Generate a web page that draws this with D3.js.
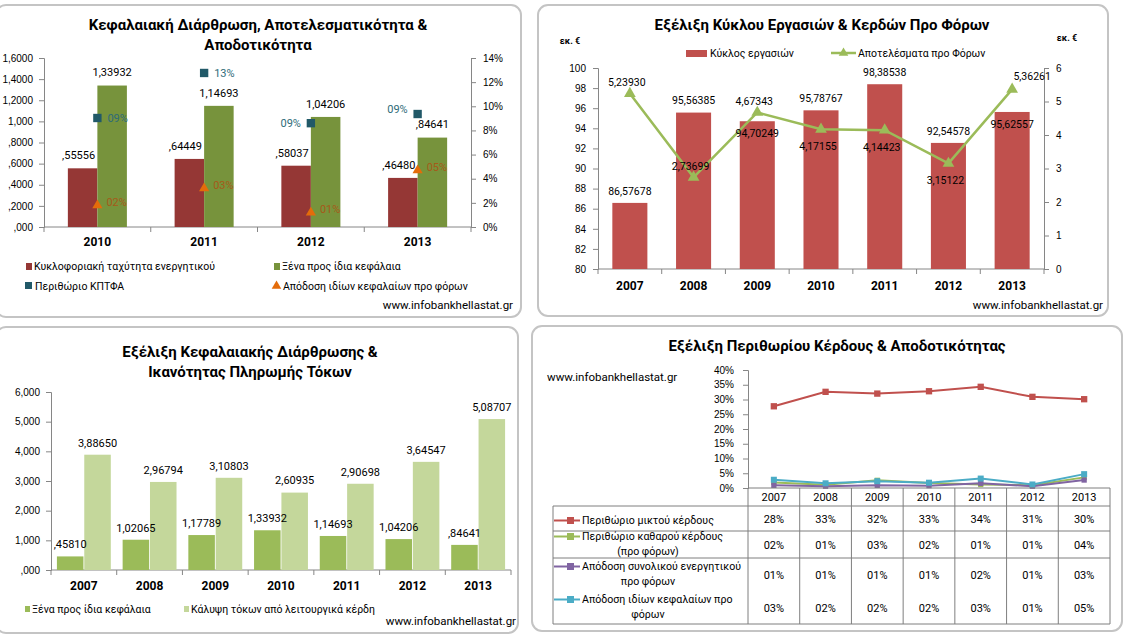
<!DOCTYPE html>
<html>
<head>
<meta charset="utf-8">
<script src="https://cdn.jsdelivr.net/npm/d3@7"></script>
<style>
  body { margin: 0; background: #fff; }
  svg { display: block; font-family: Roboto, "Noto Sans", sans-serif; }
</style>
</head>
<body>
<script>
// ---- data ----
const years4 = ["2010", "2011", "2012", "2013"];
const years7 = ["2007", "2008", "2009", "2010", "2011", "2012", "2013"];

// 2010-2013
const assetTurnover = [0.55556, 0.64449, 0.58037, 0.46480];
const ebitdaMargin = [0.0903, 0.1276, 0.086, 0.0936];

// 2007-2013
const debtToEquity = [0.45810, 1.02065, 1.17789, 1.33932, 1.14693, 1.04206, 0.84641];
const interestCover = [3.88650, 2.96794, 3.10803, 2.60935, 2.90698, 3.64547, 5.08707];
const turnover = [86.57678, 95.56385, 94.70249, 95.78767, 98.38538, 92.54578, 95.62557];
const profitBeforeTax = [5.23930, 2.73699, 4.67343, 4.17155, 4.14423, 3.15122, 5.36261];
const grossMargin = [0.277, 0.326, 0.320, 0.328, 0.343, 0.309, 0.301];
const netMargin = [0.019, 0.011, 0.026, 0.017, 0.012, 0.009, 0.036];
const roa = [0.009, 0.006, 0.009, 0.008, 0.016, 0.006, 0.027];
const roe = [0.028, 0.016, 0.023, 0.018, 0.032, 0.012, 0.047];

// tick labels as they appear
const p1LeftTicks = [",000", ",2000", ",4000", ",6000", ",8000", "1,000", "1,2000", "1,4000", "1,6000"];
const p1RightTicks = ["0%", "2%", "4%", "6%", "8%", "10%", "12%", "14%"];
const p2LeftTicks = ["80", "82", "84", "86", "88", "90", "92", "94", "96", "98", "100"];
const p2RightTicks = ["0", "1", "2", "3", "4", "5", "6"];
const p3Ticks = [",000", "1,000", "2,000", "3,000", "4,000", "5,000", "6,000"];
const p4Ticks = ["0%", "5%", "10%", "15%", "20%", "25%", "30%", "35%", "40%"];

// titles and legend names
const p1Title = ["Κεφαλαιακή Διάρθρωση, Αποτελεσματικότητα &", "Αποδοτικότητα"];
const p2Title = ["Εξέλιξη Κύκλου Εργασιών & Κερδών Προ Φόρων"];
const p3Title = ["Εξέλιξη Κεφαλαιακής Διάρθρωσης &", "Ικανότητας Πληρωμής Τόκων"];
const p4Title = ["Εξέλιξη Περιθωρίου Κέρδους & Αποδοτικότητας"];
const p1Names = ["Κυκλοφοριακή ταχύτητα ενεργητικού", "Ξένα προς ίδια κεφάλαια", "Περιθώριο ΚΠΤΦΑ", "Απόδοση ιδίων κεφαλαίων προ φόρων"];
const p2Names = ["Κύκλος εργασιών", "Αποτελέσματα προ Φόρων"];
const p3Names = ["Ξένα προς ίδια κεφάλαια", "Κάλυψη τόκων από λειτουργικά κέρδη"];
const p4Names = [
  ["Περιθώριο μικτού κέρδους"],
  ["Περιθώριο καθαρού κέρδους", "(προ φόρων)"],
  ["Απόδοση συνολικού ενεργητικού", "προ φόρων"],
  ["Απόδοση ιδίων κεφαλαίων προ", "φόρων"]
];
const source = "www.infobankhellastat.gr";

// where the labels sit (picked by hand in the original)
const p1MarginSide = ["right", "right", "left", "left"];
const p2BarLabelPos = ["above", "above", "below", "above", "above", "above", "below"];
const p2LineLabelPos = ["above", "above", "above", "below", "below", "below", "above"];

// ---- helpers ----
const axisColor = "#868686";
const pct = v => String(Math.round(v * 100)).padStart(2, "0") + "%";
const dec5 = v => v.toFixed(5).replace(".", ",").replace(/^0/, "");

const svg = d3.select("body").append("svg").attr("width", 1127).attr("height", 642);

function frame(g, x, y, w, h) {
  g.append("rect")
    .attr("x", x).attr("y", y).attr("width", w).attr("height", h)
    .attr("rx", 10)
    .attr("fill", "#fff")
    .attr("stroke", "#c4c4c4")
    .attr("stroke-width", 2);
}

function title(g, lines, cx, y0) {
  g.append("text")
    .attr("text-anchor", "middle")
    .attr("font-weight", "bold")
    .attr("font-size", 15)
    .attr("fill", "#000")
    .selectAll("tspan").data(lines).join("tspan")
    .attr("x", cx)
    .attr("y", (d, i) => y0 + i * 20)
    .attr("dy", "0.35em")
    .text(d => d);
}

function styleAxis(g) {
  g.select(".domain").attr("stroke", axisColor);
  g.selectAll(".tick line").attr("stroke", axisColor);
  g.selectAll(".tick text").attr("fill", "#000").attr("font-size", 10).attr("font-family", null);
}

// Excel style category axis: line, ticks at band edges, bold year labels
function catAxis(g, x, y0, labelY) {
  const [r0, r1] = x.range();
  g.append("line")
    .attr("x1", r0).attr("x2", r1).attr("y1", y0).attr("y2", y0)
    .attr("stroke", axisColor);
  g.append("g").selectAll("line")
    .data(d3.range(x.domain().length + 1))
    .join("line")
    .attr("x1", i => r0 + i * x.step()).attr("x2", i => r0 + i * x.step())
    .attr("y1", y0).attr("y2", y0 + 5)
    .attr("stroke", axisColor);
  g.append("g").selectAll("text")
    .data(x.domain())
    .join("text")
    .attr("x", d => x(d) + x.bandwidth() / 2)
    .attr("y", labelY)
    .attr("dy", "0.35em")
    .attr("text-anchor", "middle")
    .attr("font-weight", "bold")
    .attr("font-size", 12)
    .text(d => d);
}

function sourceText(g, x, y, anchor) {
  g.append("text")
    .attr("x", x).attr("y", y).attr("dy", "0.35em")
    .attr("text-anchor", anchor)
    .attr("font-size", 11.5)
    .attr("fill", "#000")
    .text(source);
}

function legendText(g, x, y, txt, size = 10.5) {
  g.append("text")
    .attr("x", x).attr("y", y).attr("dy", "0.35em")
    .attr("font-size", size)
    .attr("fill", "#000")
    .text(txt);
}

// ---- panel 1: Κεφαλαιακή Διάρθρωση ----
{
  const g = svg.append("g");
  frame(g, -4, 5, 525, 312);
  title(g, p1Title, 258, 25);

  const x = d3.scaleBand().domain(years4).range([44, 471]).paddingInner(0.447).paddingOuter(0.2235);
  const xs = d3.scaleBand().domain([0, 1]).range([0, x.bandwidth()]);
  const y = d3.scaleLinear().domain([0, 1.6]).range([227, 58]);
  const yr = d3.scaleLinear().domain([0, 0.14]).range([227, 58]);

  g.append("g").attr("transform", "translate(44,0)")
    .call(d3.axisLeft(y).tickValues(p1LeftTicks.map((d, i) => i * 0.2))
      .tickFormat((d, i) => p1LeftTicks[i]).tickSizeOuter(0).tickSize(5).tickPadding(6))
    .call(styleAxis);
  g.append("g").attr("transform", "translate(471,0)")
    .call(d3.axisRight(yr).tickValues(p1RightTicks.map((d, i) => i * 0.02))
      .tickFormat((d, i) => p1RightTicks[i]).tickSizeOuter(0).tickSize(5).tickPadding(7))
    .call(styleAxis);
  catAxis(g, x, 227, 242);

  const series = [
    { vals: assetTurnover, color: "#953735" },
    { vals: debtToEquity.slice(3), color: "#77933C" }
  ];
  series.forEach((s, k) => {
    g.append("g").selectAll("rect")
      .data(s.vals)
      .join("rect")
      .attr("x", (d, i) => x(years4[i]) + xs(k))
      .attr("y", d => y(d))
      .attr("width", xs.bandwidth())
      .attr("height", d => y(0) - y(d))
      .attr("fill", s.color);
  });
  series.forEach((s, k) => {
    g.append("g").selectAll("text")
      .data(s.vals)
      .join("text")
      .attr("x", (d, i) => x(years4[i]) + xs(k) + xs.bandwidth() / 2 - (k ? 0 : 4))
      .attr("y", d => y(d) - 13)
      .attr("dy", "0.35em")
      .attr("text-anchor", "middle")
      .attr("font-size", 11)
      .attr("fill", "#000")
      .text(dec5);
  });

  const cx = i => x(years4[i]) + x.bandwidth() / 2;

  // Περιθώριο ΚΠΤΦΑ - squares
  g.append("g").selectAll("path")
    .data(ebitdaMargin)
    .join("path")
    .attr("transform", (d, i) => `translate(${cx(i)},${yr(d)})`)
    .attr("d", d3.symbol(d3.symbolSquare, 70))
    .attr("fill", "#215968");
  g.append("g").selectAll("text")
    .data(ebitdaMargin)
    .join("text")
    .attr("x", (d, i) => cx(i) + (p1MarginSide[i] === "right" ? 10 : -10))
    .attr("y", (d, i) => yr(d) - (i === 3 ? 5 : 0))
    .attr("dy", "0.35em")
    .attr("text-anchor", (d, i) => p1MarginSide[i] === "right" ? "start" : "end")
    .attr("font-size", 11)
    .attr("fill", "#2E6B78")
    .text(pct);

  // Απόδοση ιδίων κεφαλαίων - triangles
  const roe4 = roe.slice(3);
  g.append("g").selectAll("path")
    .data(roe4)
    .join("path")
    .attr("transform", (d, i) => `translate(${cx(i)},${yr(d)})`)
    .attr("d", d3.symbol(d3.symbolTriangle, 45))
    .attr("fill", "#E46C0A");
  g.append("g").selectAll("text")
    .data(roe4)
    .join("text")
    .attr("x", (d, i) => cx(i) + 9)
    .attr("y", d => yr(d) - 3)
    .attr("dy", "0.35em")
    .attr("font-size", 11)
    .attr("fill", "#A65A1A")
    .text(pct);

  // legend
  g.append("rect").attr("x", 26).attr("y", 263).attr("width", 6).attr("height", 7).attr("fill", "#953735");
  legendText(g, 34, 266, p1Names[0]);
  g.append("rect").attr("x", 274).attr("y", 263).attr("width", 6).attr("height", 7).attr("fill", "#77933C");
  legendText(g, 282, 266, p1Names[1]);
  g.append("rect").attr("x", 25).attr("y", 282).attr("width", 7).attr("height", 7).attr("fill", "#215968");
  legendText(g, 35, 286, p1Names[2]);
  g.append("path").attr("transform", "translate(276.5,286)")
    .attr("d", d3.symbol(d3.symbolTriangle, 40)).attr("fill", "#E46C0A");
  legendText(g, 283, 286, p1Names[3]);

  sourceText(g, 513, 305, "end");
}

// ---- panel 2: Κύκλος εργασιών ----
{
  const g = svg.append("g");
  frame(g, 538, 5, 570, 311);
  title(g, p2Title, 822, 25);

  const x = d3.scaleBand().domain(years7).range([598, 1044]).paddingInner(0.45).paddingOuter(0.225);
  const y = d3.scaleLinear().domain([80, 100]).range([269, 68]);
  const yr = d3.scaleLinear().domain([0, 6]).range([269, 68]);

  g.append("g").attr("transform", "translate(598,0)")
    .call(d3.axisLeft(y).tickValues(p2LeftTicks.map(Number))
      .tickFormat((d, i) => p2LeftTicks[i]).tickSizeOuter(0).tickSize(5).tickPadding(7))
    .call(styleAxis);
  g.append("g").attr("transform", "translate(1044,0)")
    .call(d3.axisRight(yr).tickValues(p2RightTicks.map(Number))
      .tickFormat((d, i) => p2RightTicks[i]).tickSizeOuter(0).tickSize(5).tickPadding(7))
    .call(styleAxis);
  catAxis(g, x, 269, 286);

  g.append("text").attr("x", 570).attr("y", 41).attr("dy", "0.35em").attr("text-anchor", "middle")
    .attr("font-size", 9).attr("font-weight", "bold").text("εκ. €");
  g.append("text").attr("x", 1067).attr("y", 38).attr("dy", "0.35em").attr("text-anchor", "middle")
    .attr("font-size", 9).attr("font-weight", "bold").text("εκ. €");

  g.append("g").selectAll("rect")
    .data(turnover)
    .join("rect")
    .attr("x", (d, i) => x(years7[i]))
    .attr("y", d => y(d))
    .attr("width", x.bandwidth())
    .attr("height", d => y(80) - y(d))
    .attr("fill", "#C0504D");

  const cx = i => x(years7[i]) + x.bandwidth() / 2;
  const line = d3.line().x((d, i) => cx(i)).y(d => yr(d));
  g.append("path")
    .attr("d", line(profitBeforeTax))
    .attr("fill", "none")
    .attr("stroke", "#9BBB59")
    .attr("stroke-width", 2.5);
  g.append("g").selectAll("path")
    .data(profitBeforeTax)
    .join("path")
    .attr("transform", (d, i) => `translate(${cx(i)},${yr(d)})`)
    .attr("d", d3.symbol(d3.symbolTriangle, 60))
    .attr("fill", "#9BBB59");

  g.append("g").selectAll("text")
    .data(turnover)
    .join("text")
    .attr("x", (d, i) => x(years7[i]) + x.bandwidth() / 2)
    .attr("y", (d, i) => y(d) + (p2BarLabelPos[i] === "above" ? -12 : 12))
    .attr("dy", "0.35em")
    .attr("text-anchor", "middle")
    .attr("font-size", 10.5)
    .text(dec5);
  g.append("g").selectAll("text")
    .data(profitBeforeTax)
    .join("text")
    .attr("x", (d, i) => cx(i) + (i === 6 ? 20 : -3))
    .attr("y", (d, i) => yr(d) + (p2LineLabelPos[i] === "above" ? -11 : 17) - (i === 6 ? 2 : 0))
    .attr("dy", "0.35em")
    .attr("text-anchor", "middle")
    .attr("font-size", 10.5)
    .text(dec5);

  // legend
  g.append("rect").attr("x", 686).attr("y", 50).attr("width", 21).attr("height", 7).attr("fill", "#C0504D");
  legendText(g, 710, 53, p2Names[0]);
  g.append("line").attr("x1", 831).attr("x2", 856).attr("y1", 53).attr("y2", 53)
    .attr("stroke", "#9BBB59").attr("stroke-width", 2.5);
  g.append("path").attr("transform", "translate(843.5,53)")
    .attr("d", d3.symbol(d3.symbolTriangle, 40)).attr("fill", "#9BBB59");
  legendText(g, 858, 53, p2Names[1]);

  sourceText(g, 1103, 305, "end");
}

// ---- panel 3: Κεφαλαιακή Διάρθρωση & Τόκοι ----
{
  const g = svg.append("g");
  frame(g, -4, 327, 522, 306);
  title(g, p3Title, 250, 352);

  const x = d3.scaleBand().domain(years7).range([51, 511]).paddingInner(0.18).paddingOuter(0.09);
  const xs = d3.scaleBand().domain([0, 1]).range([0, x.bandwidth()]).paddingInner(0.03);
  const y = d3.scaleLinear().domain([0, 6]).range([570, 392]);

  g.append("g").attr("transform", "translate(51,0)")
    .call(d3.axisLeft(y).tickValues(p3Ticks.map((d, i) => i))
      .tickFormat((d, i) => p3Ticks[i]).tickSizeOuter(0).tickSize(5).tickPadding(6))
    .call(styleAxis);
  catAxis(g, x, 570, 586);

  const series = [
    { vals: debtToEquity, color: "#9BBB59" },
    { vals: interestCover, color: "#C4D79B" }
  ];
  series.forEach((s, k) => {
    g.append("g").selectAll("rect")
      .data(s.vals)
      .join("rect")
      .attr("x", (d, i) => x(years7[i]) + xs(k))
      .attr("y", d => y(d))
      .attr("width", xs.bandwidth())
      .attr("height", d => y(0) - y(d))
      .attr("fill", s.color);
  });
  series.forEach((s, k) => {
    g.append("g").selectAll("text")
      .data(s.vals)
      .join("text")
      .attr("x", (d, i) => x(years7[i]) + xs(k) + xs.bandwidth() / 2)
      .attr("y", d => y(d) - 12)
      .attr("dy", "0.35em")
      .attr("text-anchor", "middle")
      .attr("font-size", 11)
      .text(dec5);
  });

  g.append("rect").attr("x", 25).attr("y", 606).attr("width", 5).attr("height", 6).attr("fill", "#9BBB59");
  legendText(g, 32, 609, p3Names[0]);
  g.append("rect").attr("x", 184).attr("y", 606).attr("width", 5).attr("height", 6).attr("fill", "#C4D79B");
  legendText(g, 191, 609, p3Names[1]);

  sourceText(g, 516, 621, "end");
}

// ---- panel 4: Περιθώριο Κέρδους & Αποδοτικότητα ----
{
  const g = svg.append("g");
  frame(g, 532, 326, 590, 305);
  title(g, p4Title, 837, 346);
  sourceText(g, 547, 377, "start");

  const x = d3.scaleBand().domain(years7).range([748, 1110]);
  const y = d3.scaleLinear().domain([0, 0.4]).range([488, 370]);

  g.append("g").attr("transform", "translate(748,0)")
    .call(d3.axisLeft(y).tickValues(p4Ticks.map((d, i) => i * 0.05))
      .tickFormat((d, i) => p4Ticks[i]).tickSizeOuter(0).tickSize(5).tickPadding(9))
    .call(styleAxis);

  const rows = [
    { name: p4Names[0], vals: grossMargin, color: "#C0504D", size: 40 },
    { name: p4Names[1], vals: netMargin, color: "#9BBB59", size: 28 },
    { name: p4Names[2], vals: roa, color: "#8064A2", size: 28 },
    { name: p4Names[3], vals: roe, color: "#4BACC6", size: 36 }
  ];
  const cx = i => x(years7[i]) + x.bandwidth() / 2;
  const line = d3.line().x((d, i) => cx(i)).y(d => y(d));

  rows.forEach(r => {
    g.append("path")
      .attr("d", line(r.vals))
      .attr("fill", "none")
      .attr("stroke", r.color)
      .attr("stroke-width", 2);
    g.append("g").selectAll("path")
      .data(r.vals)
      .join("path")
      .attr("transform", (d, i) => `translate(${cx(i)},${y(d)})`)
      .attr("d", d3.symbol(d3.symbolSquare, r.size))
      .attr("fill", r.color);
  });

  // data table under the plot
  const gridColor = "#7f7f7f";
  const rowEdges = [506, 531, 558, 591, 624];
  const t = g.append("g").attr("stroke", gridColor).attr("stroke-width", 1);
  t.append("line").attr("x1", 748).attr("x2", 1110).attr("y1", 488).attr("y2", 488);
  [506, 531, 558, 624].forEach(yy =>
    t.append("line").attr("x1", 553).attr("x2", 1110).attr("y1", yy).attr("y2", yy));
  t.append("line").attr("x1", 553).attr("x2", 553).attr("y1", 506).attr("y2", 624);
  d3.range(8).forEach(i => {
    const xx = 748 + i * x.step();
    t.append("line").attr("x1", xx).attr("x2", xx).attr("y1", 488).attr("y2", 624);
  });

  g.append("g").selectAll("text")
    .data(years7)
    .join("text")
    .attr("x", d => x(d) + x.bandwidth() / 2)
    .attr("y", 497)
    .attr("dy", "0.35em")
    .attr("text-anchor", "middle")
    .attr("font-size", 11)
    .text(d => d);

  rows.forEach((r, k) => {
    const top = rowEdges[k], bot = rowEdges[k + 1], mid = (top + bot) / 2;
    g.append("g").selectAll("text")
      .data(r.vals)
      .join("text")
      .attr("x", (d, i) => cx(i))
      .attr("y", mid + 1)
      .attr("dy", "0.35em")
      .attr("text-anchor", "middle")
      .attr("font-size", 11)
      .text(pct);

    // legend key + series name
    const l1y = r.name.length > 1 ? mid - 8 : mid + 2;
    g.append("line").attr("x1", 554).attr("x2", 580).attr("y1", l1y).attr("y2", l1y)
      .attr("stroke", r.color).attr("stroke-width", 2);
    g.append("rect").attr("x", 567).attr("y", l1y - 3.5).attr("width", 7).attr("height", 7).attr("fill", r.color);
    legendText(g, 582, l1y, r.name[0], 10.6);
    if (r.name.length > 1) {
      g.append("text").attr("x", 648).attr("y", mid + 7).attr("dy", "0.35em")
        .attr("text-anchor", "middle").attr("font-size", 10.6).text(r.name[1]);
    }
  });
}
</script>
</body>
</html>
